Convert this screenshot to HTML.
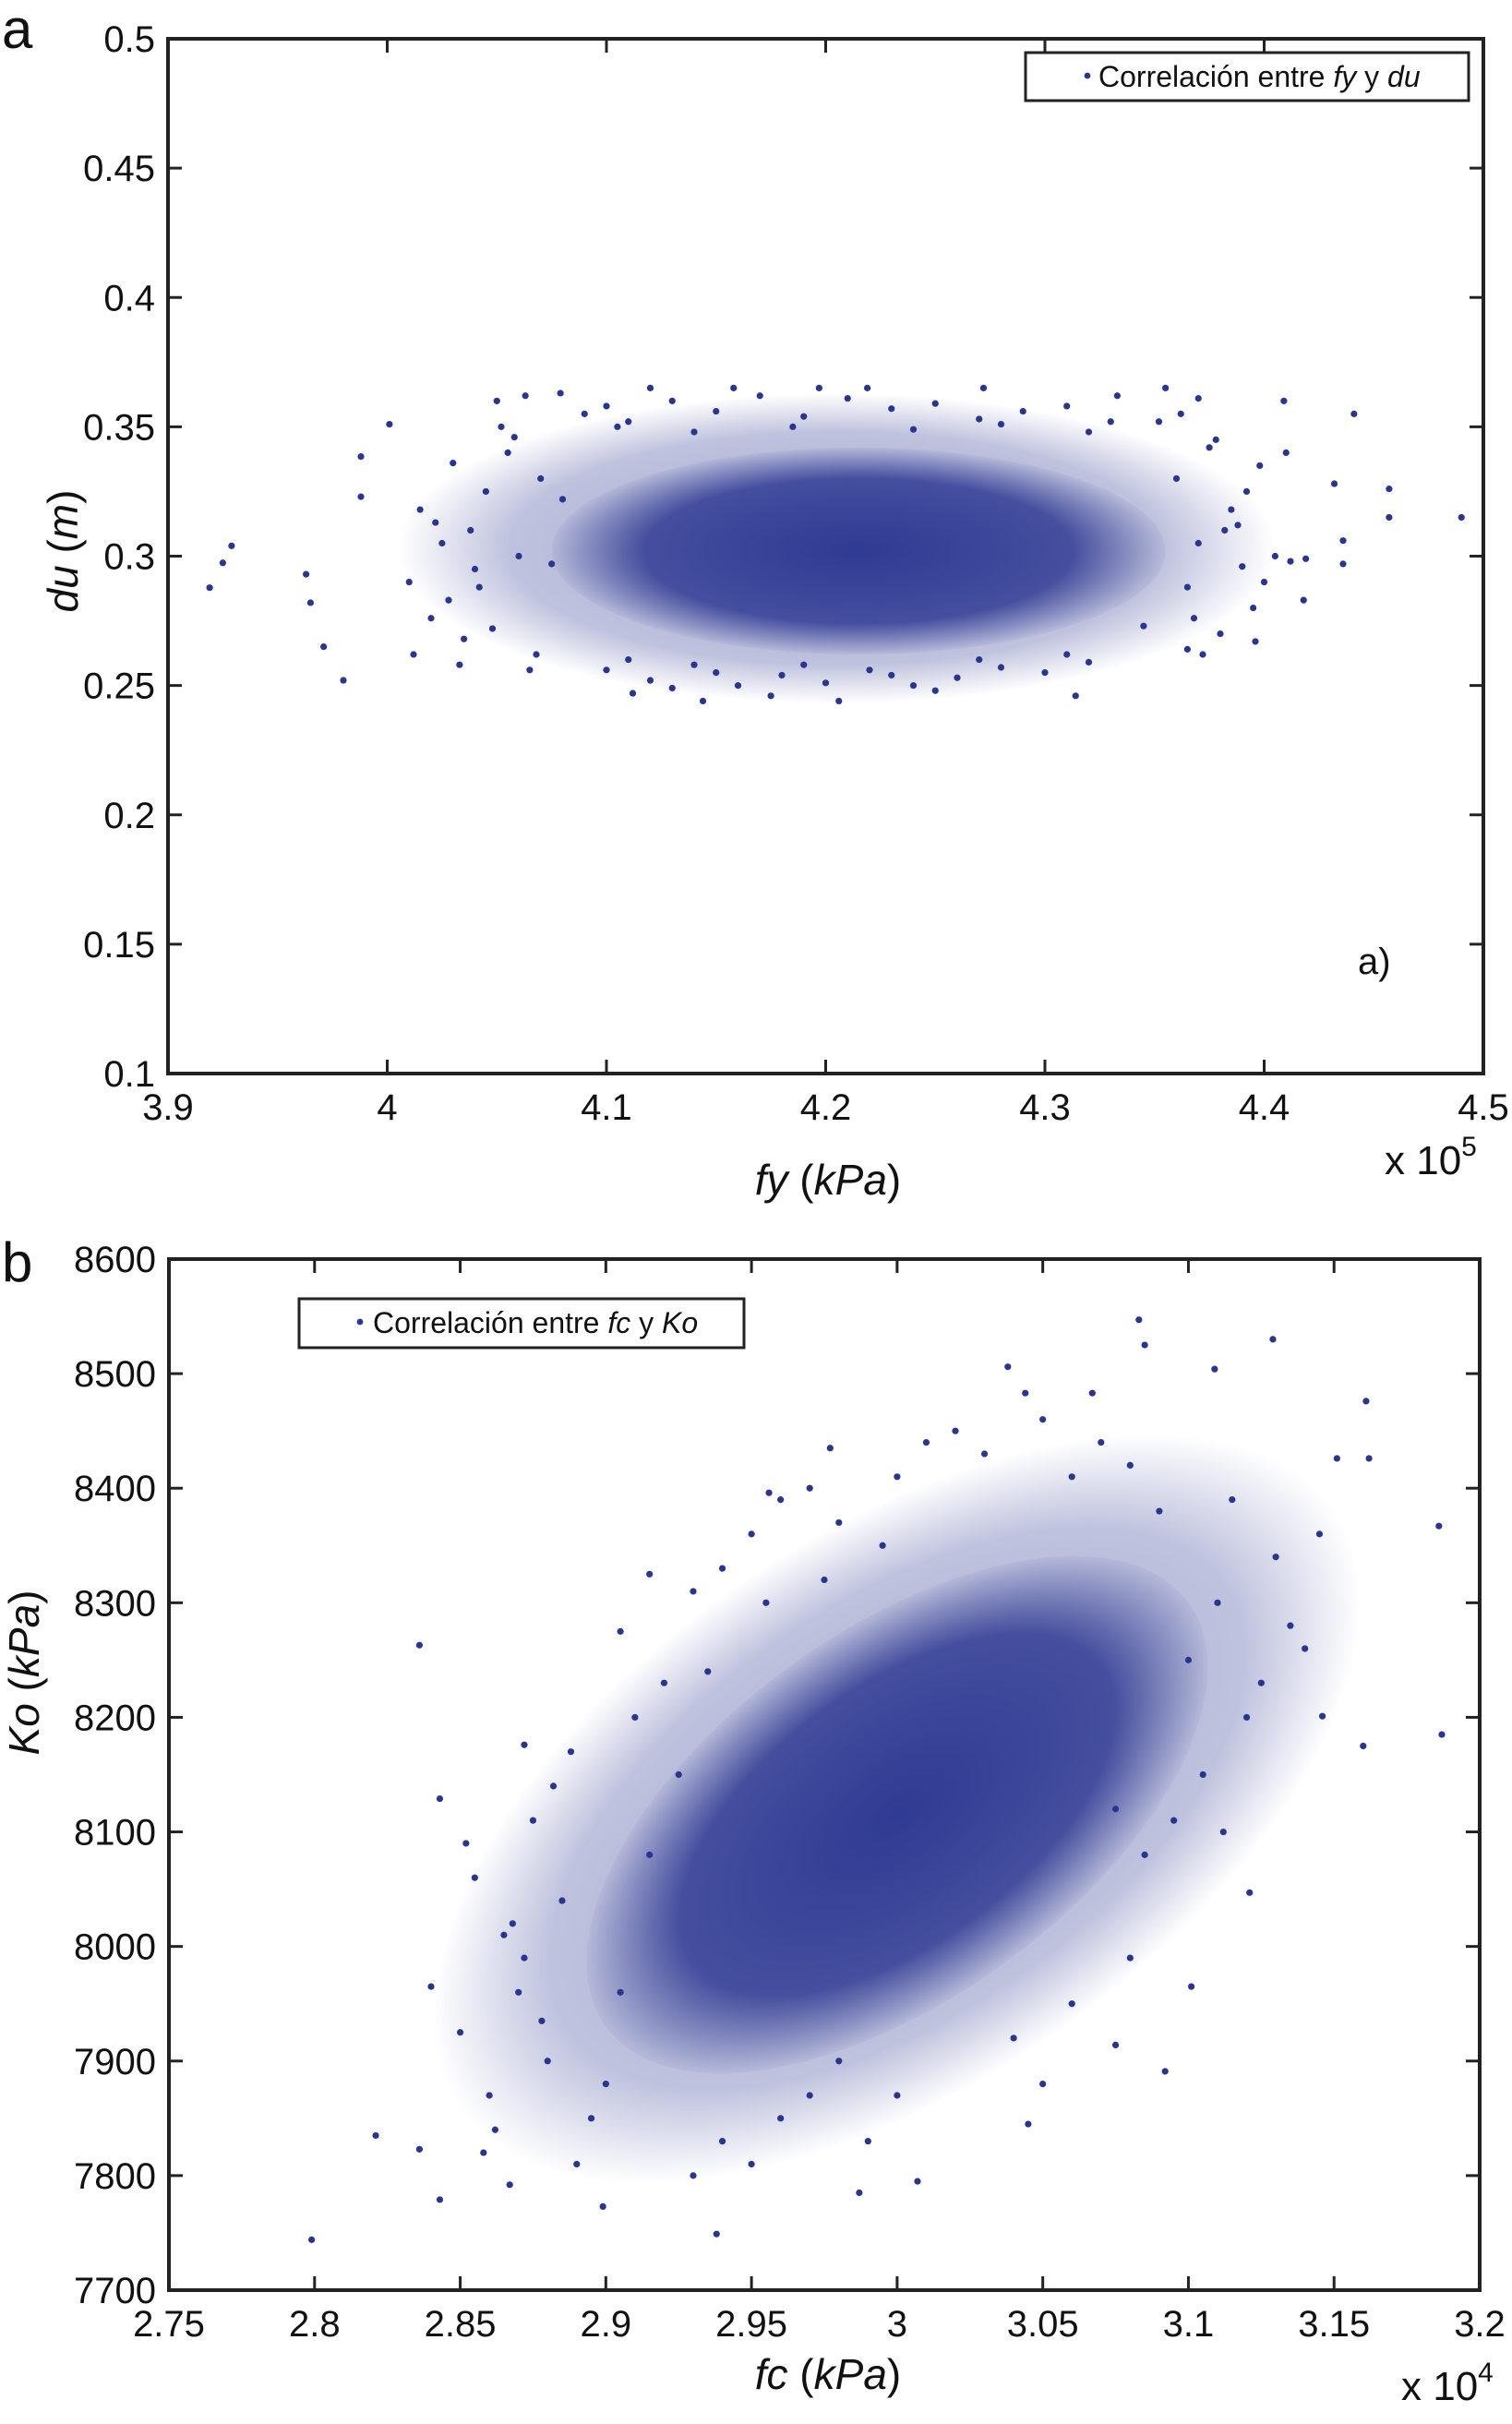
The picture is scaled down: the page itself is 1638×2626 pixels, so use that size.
<!DOCTYPE html>
<html><head><meta charset="utf-8">
<style>
html,body{margin:0;padding:0;background:#fff;}
svg{display:block;font-family:"Liberation Sans",Arial,sans-serif;}
</style></head>
<body>
<svg id="fig" width="1638" height="2626" viewBox="0 0 1638 2626" xmlns="http://www.w3.org/2000/svg">
<defs>
<radialGradient id="coreGrad"><stop offset="0" stop-color="#2a3590" stop-opacity="0.95"/><stop offset="0.7" stop-color="#2a3590" stop-opacity="0.8"/><stop offset="1" stop-color="#2a3590" stop-opacity="0.05"/></radialGradient>
<radialGradient id="haloGrad"><stop offset="0" stop-color="#2a3590" stop-opacity="0.45"/><stop offset="0.75" stop-color="#2a3590" stop-opacity="0.3"/><stop offset="1" stop-color="#2a3590" stop-opacity="0"/></radialGradient>
</defs>
<g id="pA"></g>
<g id="pB"></g>
</svg>
<script>
// ---------- Panel A data ----------
const aXTicks = [3.9,4.0,4.1,4.2,4.3,4.4,4.5];
const aXTickLabels = ["3.9","4","4.1","4.2","4.3","4.4","4.5"];
const aYTicks = [0.1,0.15,0.2,0.25,0.3,0.35,0.4,0.45,0.5];
const aYTickLabels = ["0.1","0.15","0.2","0.25","0.3","0.35","0.4","0.45","0.5"];
const aCore = [4.215, 0.302, 0.14, 0.04]; // center x, center y, half-width x, half-height y
const aHalo = [4.205, 0.303, 0.2, 0.06];
const aFy = [3.919,3.925,3.929,3.963,3.965,3.971,3.98,3.988,4.001,3.988,4.441,4.457,4.457,4.49,4.436,4.418,4.396,4.314,4.365,4.409,4.419,4.432,4.436,4.144,4.206,4.175,4.112,4.05,4.063,4.079,4.12,4.158,4.197,4.219,4.272,4.333,4.355,4.37,
4.01,4.015,4.02,4.025,4.03,4.035,4.04,4.045,4.012,4.028,4.038,4.048,4.055,4.06,4.065,4.07,4.022,4.042,4.058,4.068,4.075,4.08,4.033,4.052,
4.36,4.365,4.37,4.375,4.38,4.385,4.39,4.395,4.362,4.372,4.382,4.392,4.4,4.405,4.41,4.368,4.378,4.388,4.345,4.352,4.398,4.412,
4.09,4.1,4.11,4.13,4.15,4.17,4.19,4.21,4.23,4.25,4.27,4.29,4.31,4.33,4.105,4.14,4.185,4.24,4.28,4.32,
4.1,4.12,4.14,4.16,4.18,4.2,4.22,4.24,4.26,4.28,4.3,4.32,4.11,4.15,4.19,4.23,4.27,4.31,4.13,4.25];
const aDu = [0.2878,0.2974,0.304,0.293,0.282,0.265,0.252,0.3385,0.351,0.323,0.355,0.326,0.315,0.315,0.297,0.283,0.267,0.246,0.264,0.36,0.299,0.328,0.306,0.244,0.244,0.246,0.247,0.36,0.362,0.363,0.365,0.365,0.365,0.365,0.365,0.362,0.365,0.361,
0.29,0.318,0.276,0.305,0.336,0.268,0.295,0.325,0.262,0.283,0.31,0.272,0.34,0.3,0.256,0.33,0.313,0.288,0.346,0.262,0.297,0.322,0.258,0.35,
0.33,0.288,0.305,0.342,0.27,0.318,0.296,0.28,0.355,0.262,0.31,0.325,0.29,0.3,0.34,0.276,0.345,0.312,0.273,0.352,0.335,0.298,
0.355,0.358,0.352,0.36,0.356,0.362,0.354,0.361,0.357,0.359,0.353,0.356,0.358,0.352,0.35,0.348,0.35,0.349,0.351,0.348,
0.256,0.252,0.258,0.25,0.254,0.251,0.256,0.25,0.253,0.257,0.255,0.259,0.26,0.255,0.258,0.254,0.26,0.262,0.249,0.248];

// ---------- Panel B data ----------
const bXTicks = [2.75,2.8,2.85,2.9,2.95,3.0,3.05,3.1,3.15,3.2];
const bXTickLabels = ["2.75","2.8","2.85","2.9","2.95","3","3.05","3.1","3.15","3.2"];
const bYTicks = [7700,7800,7900,8000,8100,8200,8300,8400,8500,8600];
const bYTickLabels = ["7700","7800","7900","8000","8100","8200","8300","8400","8500","8600"];
const bCoreEnds = [2.9, 7930, 3.1, 8300]; // major axis endpoints (x1,y1,x2,y2)
const bCoreMinor = 160; // Ko-units of perpendicular spread
const bHaloEnds = [2.85, 7860, 3.15, 8380];
const bHaloMinor = 240;
const bFc = [2.799,2.821,2.836,2.843,2.836,2.84,2.843,2.867,2.872,2.899,2.938,2.987,3.007,2.977,3.038,3.067,3.083,3.085,3.129,3.161,3.186,3.187,3.16,3.146,3.121,3.101,3.092,3.045,3.075,3.112,3.162,3.151,3.044,3.109,2.905,2.915,2.956,
2.85,2.855,2.86,2.865,2.87,2.875,2.88,2.885,2.852,2.862,2.872,2.882,2.858,2.868,2.878,2.888,2.89,2.9,2.91,2.92,2.895,2.905,2.915,2.925,
2.93,2.94,2.95,2.96,2.97,2.98,2.99,3.0,2.935,2.955,2.975,2.995,
3.1,3.11,3.12,3.13,3.14,3.105,3.115,3.125,3.135,3.145,3.08,3.09,3.07,3.06,3.05,3.095,3.085,3.075,
2.93,2.95,2.96,2.98,3.0,3.02,2.94,2.97,3.01,3.03,3.05,3.04,3.06,3.08];
const bKo = [7744,7835,7823,7779,8263,7965,8129,7792,8176,7773,7749,7785,7795,8435,8506,8483,8547,8525,8530,8476,8367,8185,8175,8201,8047,7965,7891,7845,7914,8100,8426,8426,8483,8504,8275,8325,8396,
7925,8060,7870,8010,7960,8110,7900,8040,8090,7840,7990,8140,7820,8020,7935,8170,7810,7880,8200,8230,7850,7960,8080,8150,
7800,7830,7810,7850,7870,7900,7830,7870,8240,8300,8320,8350,
8250,8300,8200,8340,8260,8150,8390,8230,8280,8360,8420,8380,8440,8410,8460,8110,8080,8120,
8310,8360,8390,8370,8410,8450,8330,8400,8440,8430,7880,7920,7950,7990];

// ---------- helpers ----------
const NS = "http://www.w3.org/2000/svg";
function mk(tag, attrs, parent){const e=document.createElementNS(NS,tag);for(const k in attrs)e.setAttribute(k,attrs[k]);parent.appendChild(e);return e;}
const DOT = "#2a3590";

function panel(g, box, xd, yd, xt, xtl, yt, ytl){
  const sx = v => box.l + (v - xd[0]) / (xd[1] - xd[0]) * (box.r - box.l);
  const sy = v => box.b - (v - yd[0]) / (yd[1] - yd[0]) * (box.b - box.t);
  const ax = mk('g',{},g);
   
  xt.forEach((v,i)=>{
    const x = sx(v);
    mk('line',{x1:x,y1:box.b,x2:x,y2:box.b-15,stroke:'#222','stroke-width':3},ax);
    mk('line',{x1:x,y1:box.t,x2:x,y2:box.t+15,stroke:'#222','stroke-width':3},ax);
    const t = mk('text',{x:x,y:box.b+50,'font-size':40,'text-anchor':'middle',fill:'#111'},ax);
     
    t.textContent = xtl[i];
  });
  yt.forEach((v,i)=>{
    const y = sy(v);
    mk('line',{x1:box.l,y1:y,x2:box.l+15,y2:y,stroke:'#222','stroke-width':3},ax);
    mk('line',{x1:box.r,y1:y,x2:box.r-15,y2:y,stroke:'#222','stroke-width':3},ax);
    const t = mk('text',{x:box.l-14,y:y+14,'font-size':40,'text-anchor':'end',fill:'#111'},ax);
     
    t.textContent = ytl[i];
  });
  return {sx, sy, ax};
}
function frame(g, box){
  const r = mk('rect',{x:box.l,y:box.t,width:box.r-box.l,height:box.b-box.t,fill:'none',stroke:'#222','stroke-width':4},g);
   
}
function dots(g, xs, ys, sx, sy){
  const s = mk('g',{fill:DOT},g);
   
  xs.forEach((v,i)=>{
    const c = mk('circle',{cx:sx(v),cy:sy(ys[i]),r:3.6},s);
    
    
  });
}

// ---------- Panel A ----------
const gA = document.getElementById('pA');
const boxA = {l:182,r:1607,t:42,b:1163};
const A = panel(gA, boxA, [3.9,4.5], [0.1,0.5], aXTicks, aXTickLabels, aYTicks, aYTickLabels);
{
  const h = mk('ellipse',{cx:A.sx(aHalo[0]),cy:A.sy(aHalo[1]),rx:A.sx(aHalo[0]+aHalo[2])-A.sx(aHalo[0]),ry:A.sy(aHalo[1]-aHalo[3])-A.sy(aHalo[1]),fill:'url(#haloGrad)'},gA);
   
  const c = mk('ellipse',{cx:A.sx(aCore[0]),cy:A.sy(aCore[1]),rx:A.sx(aCore[0]+aCore[2])-A.sx(aCore[0]),ry:A.sy(aCore[1]-aCore[3])-A.sy(aCore[1]),fill:'url(#coreGrad)'},gA);
   
}
dots(gA, aFy, aDu, A.sx, A.sy);
frame(gA, boxA);

// ---------- Panel B ----------
const gB = document.getElementById('pB');
const boxB = {l:183,r:1603,t:1364,b:2481};
const B = panel(gB, boxB, [2.75,3.2], [7700,8600], bXTicks, bXTickLabels, bYTicks, bYTickLabels);
function rotEllipse(ends, minor, grad, name){
  const x1=B.sx(ends[0]), y1=B.sy(ends[1]), x2=B.sx(ends[2]), y2=B.sy(ends[3]);
  const cx=(x1+x2)/2, cy=(y1+y2)/2, rx=Math.hypot(x2-x1,y2-y1)/2;
  const ang=Math.atan2(y2-y1,x2-x1)*180/Math.PI;
  const ry=(B.sy(8000-minor/2)-B.sy(8000+minor/2));
  const e=mk('ellipse',{cx:cx,cy:cy,rx:rx,ry:ry,fill:grad,transform:`rotate(${ang} ${cx} ${cy})`},gB);
   
}
rotEllipse(bHaloEnds, bHaloMinor, 'url(#haloGrad)', 'density-halo');
rotEllipse(bCoreEnds, bCoreMinor, 'url(#coreGrad)', 'density-core');
dots(gB, bFc, bKo, B.sx, B.sy);
frame(gB, boxB);
</script>
<svg style="position:absolute;left:0;top:0" width="1638" height="2626" xmlns="http://www.w3.org/2000/svg" font-family="Liberation Sans, Arial, sans-serif">
  <text x="2" y="52" font-size="60" fill="#111">a</text>
  <text x="2" y="1388" font-size="60" fill="#111">b</text>
  <g>
    <rect x="1111" y="57" width="480" height="52" fill="#fff" stroke="#222" stroke-width="3"/>
    <circle cx="1178" cy="82" r="3.4" fill="#2a3590"/>
    <text x="1190" y="94" font-size="32" fill="#111">Correlación entre <tspan font-style="italic">fy</tspan> y <tspan font-style="italic">du</tspan></text>
  </g>
  <text x="1471" y="1055" font-size="40" fill="#111">a)</text>
  <text x="897" y="1294" font-size="46" text-anchor="middle" fill="#111"><tspan font-style="italic">fy</tspan> (<tspan font-style="italic">kPa</tspan>)</text>
  <text x="1500" y="1272" font-size="44" fill="#111">x 10<tspan font-size="30" dy="-20">5</tspan></text>
  <text transform="translate(84 597) rotate(-90)" font-size="46" text-anchor="middle" fill="#111"><tspan font-style="italic">du</tspan> (<tspan font-style="italic">m</tspan>)</text>
  <g>
    <rect x="324" y="1407" width="482" height="53" fill="#fff" stroke="#222" stroke-width="3"/>
    <circle cx="390" cy="1432" r="3.4" fill="#2a3590"/>
    <text x="404" y="1444" font-size="32" fill="#111">Correlación entre <tspan font-style="italic">fc</tspan> y <tspan font-style="italic">Ko</tspan></text>
  </g>
  <text x="897" y="2588" font-size="46" text-anchor="middle" fill="#111"><tspan font-style="italic">fc</tspan> (<tspan font-style="italic">kPa</tspan>)</text>
  <text x="1518" y="2600" font-size="44" fill="#111">x 10<tspan font-size="30" dy="-20">4</tspan></text>
  <text transform="translate(42 1812) rotate(-90)" font-size="46" text-anchor="middle" fill="#111"><tspan font-style="italic">Ko</tspan> (<tspan font-style="italic">kPa</tspan>)</text>
</svg>
</body></html>
